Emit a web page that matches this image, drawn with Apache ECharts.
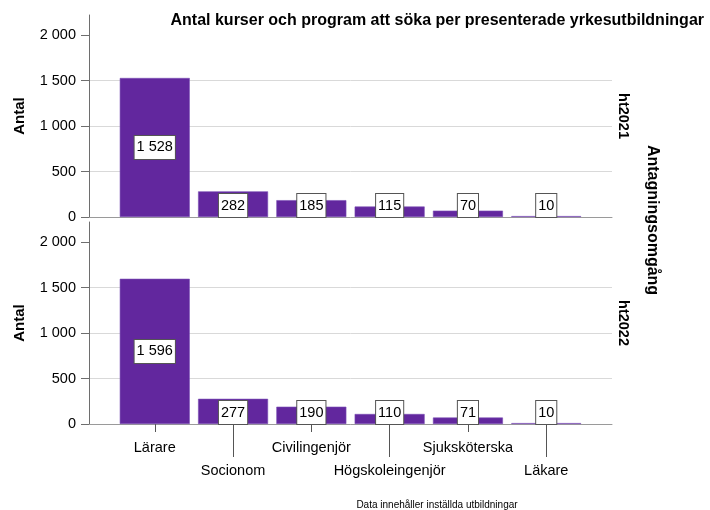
<!DOCTYPE html>
<html><head><meta charset="utf-8">
<script src="https://cdn.jsdelivr.net/npm/echarts@6/dist/echarts.min.js"></script>
<style>html,body{margin:0;padding:0;background:#fff}#c{width:710px;height:510px}</style>
</head><body><div id="c"></div>
<script>
const categories = ['Lärare', 'Socionom', 'Civilingenjör', 'Högskoleingenjör', 'Sjuksköterska', 'Läkare'];
const values2021 = [1528, 282, 185, 115, 70, 10];
const values2022 = [1596, 277, 190, 110, 71, 10];
const panels = ['ht2021', 'ht2022'];
const yTicks = [0, 500, 1000, 1500, 2000];
const titleText = 'Antal kurser och program att söka per presenterade yrkesutbildningar';
const footnote = 'Data innehåller inställda utbildningar';
const yName = 'Antal';
const facetName = 'Antagningsomgång';

const FONT = '"Liberation Sans", Arial, sans-serif';
const BAR = '#62279e';
const fmt = v => String(v).replace(/\B(?=(\d{3})+(?!\d))/g, ' ');
const idx = categories.map((c, i) => i);
const upperRow = idx.filter(i => i % 2 === 0);
const lowerRow = idx.filter(i => i % 2 === 1);
const X_MIN = -0.84, X_MAX = 5.84, Y_MAX = 2220;

const chart = echarts.init(document.getElementById('c'), null, {renderer: 'canvas'});

function yAxis(g) {
  return {
    gridIndex: g, type: 'value', min: 0, max: Y_MAX, interval: 500,
    name: yName, nameLocation: 'middle', nameGap: 62,
    nameTextStyle: {fontWeight: 'bold', fontSize: 15, color: '#000', fontFamily: FONT},
    axisLine: {show: true, onZero: false, lineStyle: {color: '#6e6e6e', width: 1}},
    axisTick: {show: true, length: 8, customValues: yTicks, lineStyle: {color: '#6e6e6e'}},
    axisLabel: {customValues: yTicks, formatter: fmt, margin: 13, fontSize: 14.5, color: '#000', fontFamily: FONT},
    splitLine: {show: true, showMaxLine: false, lineStyle: {color: '#d9d9d9', width: 1}}
  };
}

function seriesData(vals) {
  return vals.map((v, i) => ({
    value: [i, v],
    label: v < 400 ? {position: 'insideBottom', distance: 0} : {position: 'inside'}
  }));
}

const labelStyle = {
  show: true, formatter: p => fmt(p.value[1]), color: '#000', fontSize: 14.5, fontFamily: FONT,
  backgroundColor: '#fff', borderColor: '#555', borderWidth: 1, padding: [3, 2, 2, 2], lineHeight: 18
};

const option = {
  animation: false,
  backgroundColor: '#fff',
  textStyle: {fontFamily: FONT},
  grid: [
    {left: 89, top: 15, width: 523, height: 202, containLabel: false},
    {left: 89, top: 222, width: 523, height: 202, containLabel: false}
  ],
  xAxis: [
    {gridIndex: 0, type: 'value', min: X_MIN, max: X_MAX,
     axisLine: {show: true, onZero: false, lineStyle: {color: '#9a9a9a'}},
     axisTick: {show: false}, axisLabel: {show: false}, splitLine: {show: false}},
    {gridIndex: 1, type: 'value', min: X_MIN, max: X_MAX, position: 'bottom',
     axisLine: {show: true, onZero: false, lineStyle: {color: '#9a9a9a'}},
     axisTick: {show: true, customValues: upperRow, length: 8, lineStyle: {color: '#555'}},
     axisLabel: {customValues: upperRow, formatter: v => categories[v], margin: 16, fontSize: 14.5, color: '#000', fontFamily: FONT},
     splitLine: {show: false}},
    {gridIndex: 1, type: 'value', min: X_MIN, max: X_MAX, position: 'bottom',
     axisLine: {show: false, onZero: false},
     axisTick: {show: true, customValues: lowerRow, length: 33, lineStyle: {color: '#555'}},
     axisLabel: {customValues: lowerRow, formatter: v => categories[v], margin: 39, fontSize: 14.5, color: '#000', fontFamily: FONT},
     splitLine: {show: false}}
  ],
  yAxis: [yAxis(0), yAxis(1)],
  series: [
    {type: 'bar', name: panels[0], xAxisIndex: 0, yAxisIndex: 0, barWidth: 70,
     itemStyle: {color: BAR, borderColor: '#7b4fb5', borderWidth: 0.6},
     label: labelStyle, data: seriesData(values2021)},
    {type: 'bar', name: panels[1], xAxisIndex: 1, yAxisIndex: 1, barWidth: 70,
     itemStyle: {color: BAR, borderColor: '#7b4fb5', borderWidth: 0.6},
     label: labelStyle, data: seriesData(values2022)}
  ],
  graphic: [
    {type: 'text', x: 704, y: 21, z: 10,
     style: {text: titleText, fill: '#000', font: 'bold 16px ' + FONT, textAlign: 'right', textVerticalAlign: 'middle'}},
    {type: 'rect', z: 11, shape: {x: 150, y: 28, width: 560, height: 5}, style: {fill: '#fff'}},
    {type: 'text', x: 623, y: 116, rotation: -Math.PI / 2,
     style: {text: panels[0], fill: '#000', font: 'bold 14.5px ' + FONT, textAlign: 'center', textVerticalAlign: 'middle'}},
    {type: 'text', x: 623, y: 323, rotation: -Math.PI / 2,
     style: {text: panels[1], fill: '#000', font: 'bold 14.5px ' + FONT, textAlign: 'center', textVerticalAlign: 'middle'}},
    {type: 'text', x: 652, y: 220, rotation: -Math.PI / 2,
     style: {text: facetName, fill: '#000', font: 'bold 16px ' + FONT, textAlign: 'center', textVerticalAlign: 'middle'}},
    {type: 'text', x: 437, y: 505,
     style: {text: footnote, fill: '#000', font: '10px ' + FONT, textAlign: 'center', textVerticalAlign: 'middle'}}
  ]
};
chart.setOption(option);
</script>
</body></html>
